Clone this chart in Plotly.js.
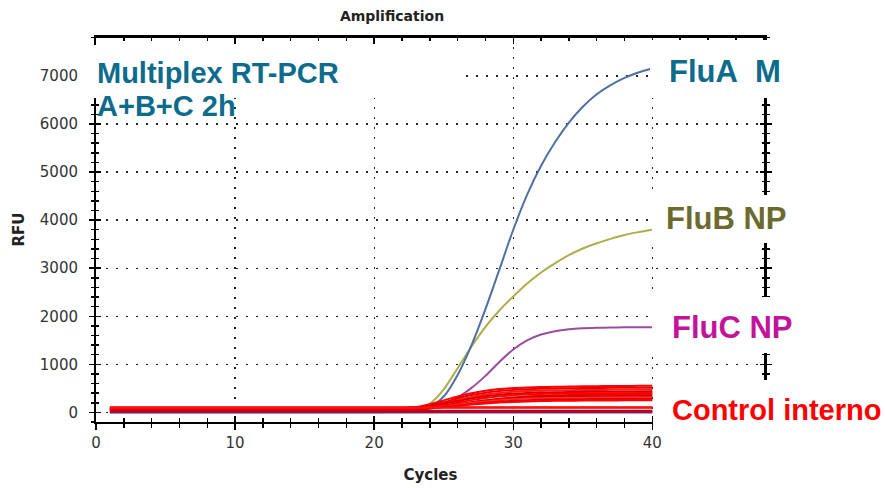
<!DOCTYPE html>
<html><head><meta charset="utf-8">
<script src="https://cdn.plot.ly/plotly-3.0.1.min.js"></script>
<style>html,body{margin:0;padding:0;background:#fff}#chart{width:885px;height:488px}</style>
</head><body><div id="chart"></div>
<script>
// ---- data ----
const cycles = [1,2,3,4,5,6,7,8,9,10,11,12,13,14,15,16,17,18,19,20,21,22,23,24,25,26,27,28,29,30,31,32,33,34,35,36,37,38,39,40];

const fluA = [10,10,10,10,10,10,10,10,10,10,10,10,10,10,10,10,10,10,10,10,12,15,40,110,330,780,1400,2150,2970,3800,4530,5130,5620,6030,6360,6620,6810,6960,7070,7160];
const fluB = [15,15,15,15,15,15,15,15,15,15,15,15,15,15,15,15,15,15,15,15,16,20,60,180,480,920,1370,1780,2120,2410,2680,2910,3100,3270,3410,3520,3610,3690,3750,3800];
const fluC = [5,5,5,5,5,5,5,5,5,5,5,5,5,5,5,5,5,5,5,5,6,10,30,80,170,310,510,760,1050,1310,1500,1620,1690,1730,1750,1760,1765,1770,1770,1770];

// internal control curves (rising)
const ctrl1 = [80,80,80,80,80,80,80,80,80,80,80,80,80,80,80,80,80,80,80,80,80,85,110,170,250,330,400,450,485,505,518,527,533,538,542,545,548,550,552,553];
const ctrl2 = [70,70,70,70,70,70,70,70,70,70,70,70,70,70,70,70,70,70,70,70,70,75,95,140,210,290,360,410,445,468,482,491,497,502,505,508,510,511,512,513];
const ctrl3 = [60,60,60,60,60,60,60,60,60,60,60,60,60,60,60,60,60,60,60,60,60,65,85,125,185,255,320,370,405,428,443,452,458,462,465,467,469,470,471,472];
const ctrl4 = [90,90,90,90,90,90,90,90,90,90,90,90,90,90,90,90,90,90,90,90,90,92,105,135,180,235,290,335,368,390,404,413,419,423,426,428,429,430,431,432];
const ctrl5 = [50,50,50,50,50,50,50,50,50,50,50,50,50,50,50,50,50,50,50,50,50,55,70,100,145,200,255,300,335,358,373,383,389,393,396,398,399,400,401,402];
const ctrl6 = [75,75,75,75,75,75,75,75,75,75,75,75,75,75,75,75,75,75,75,75,75,78,85,105,135,170,210,250,285,312,332,345,354,360,364,367,369,370,371,372];
const ctrl7 = [40,40,40,40,40,40,40,40,40,40,40,40,40,40,40,40,40,40,40,40,40,45,55,80,115,160,205,245,275,297,312,322,328,332,335,337,338,339,340,341];
const ctrl8 = [65,65,65,65,65,65,65,65,65,65,65,65,65,65,65,65,65,65,65,65,65,68,75,95,125,160,195,228,255,274,287,295,300,303,305,307,308,309,310,310];
const ctrl9 = [55,55,55,55,55,55,55,55,55,55,55,55,55,55,55,55,55,55,55,55,55,58,65,85,110,140,172,200,224,242,255,263,268,272,275,277,278,279,280,280];
const ctrl10 = [85,85,85,85,85,85,85,85,85,85,85,85,85,85,85,85,85,85,85,85,85,87,90,100,118,140,163,185,204,218,228,235,240,243,246,248,249,250,251,252];
// flat (negative) wells
const flat1 = [105,105,105,105,105,105,105,105,105,105,105,105,105,105,105,105,105,105,105,105,105,105,105,105,105,105,105,105,105,105,105,105,105,105,105,105,105,105,105,105];
const flat2 = [35,35,35,35,35,35,35,35,35,35,35,35,35,35,35,35,35,35,35,35,35,35,35,35,35,35,35,35,35,35,35,35,35,35,35,35,35,35,35,35];
const flat3 = [20,20,20,20,20,20,20,20,20,20,20,20,20,20,20,20,20,20,20,20,20,20,20,20,20,20,20,20,20,20,20,20,20,20,20,20,20,20,20,20];
const flat4 = [95,95,95,95,95,95,95,95,95,95,95,95,95,95,95,95,95,95,95,95,95,95,95,95,95,95,95,95,95,95,95,95,95,95,95,95,95,95,95,95];
const flat5 = [0,0,0,0,0,0,0,0,0,0,0,0,0,0,0,0,0,0,0,0,0,0,0,0,0,0,0,0,0,0,0,0,0,0,0,0,0,0,0,0];

const xTickVals = [0,10,20,30,40];
const yTickVals = [0,1000,2000,3000,4000,5000,6000,7000];

// ---- styling ----
const ctrlSeries = [ctrl1,ctrl2,ctrl3,ctrl4,ctrl5,ctrl6,ctrl7,ctrl8,ctrl9,ctrl10];
const ctrlColors = ['#ff0000','#e60000','#ff1a1a','#d40000','#ff0000','#f00000','#cc0000','#ff2a2a','#e00000','#ff0000'];
const flatSeries = [flat5,flat1,flat2,flat3,flat4];
const flatColors = ['#7a2a7a','#ff0000','#dd0000','#b00020','#ff1010'];
const flatAxes = [['x2','y2'],['x2','y2'],['x2','y2'],['x3','y3'],['x3','y3']];

const spl = {shape:'spline', smoothing:0.8, width:2};
const traces = [];
traces.push({x:cycles, y:fluC, mode:'lines', line:Object.assign({color:'#9c4c9c'}, spl)});
traces.push({x:cycles, y:fluB, mode:'lines', line:Object.assign({color:'#adad4c'}, spl)});
traces.push({x:cycles, y:fluA, mode:'lines', line:Object.assign({color:'#4f70a4'}, spl)});
ctrlSeries.forEach((s,i)=>traces.push({x:cycles, y:s, mode:'lines', line:Object.assign({color:ctrlColors[i]}, spl)}));
flatSeries.forEach((s,i)=>traces.push({x:cycles, y:s, mode:'lines', xaxis:flatAxes[i][0], yaxis:flatAxes[i][1], line:{color:flatColors[i], width:2}}));
traces.forEach(t=>{t.showlegend=false; t.hoverinfo='skip';});

const tickFont = {family:'DejaVu Sans', size:15, color:'#333'};
const titleFont = {family:'DejaVu Sans', size:15, color:'#222', weight:'bold'};
const xr = [0,48.1], yr = [-200,7810];
const grid = {showgrid:true, gridcolor:'#222', gridwidth:1.3, griddash:'1.5px,8.5px'};
const tk = (dir, len, mlen, dt, mdt) => ({tick0:0, ticks:dir, ticklen:len, tickwidth:1.5, tickcolor:'#000',
  minor:{dtick:mdt, tick0:0, ticks:dir, ticklen:mlen, tickwidth:1.5, tickcolor:'#000', showgrid:false}});
const noLab = {showticklabels:false, showgrid:false, zeroline:false, fixedrange:true};

const W = 669, H = 385, L = 96, T = 37;
const px = X => (X-L)/W, py = Y => (T+H-Y)/H;
const box = (x0,y0,x1,y1) => ({type:'rect', xref:'paper', yref:'paper', x0:px(x0), x1:px(x1), y0:py(y1), y1:py(y0), fillcolor:'#fff', line:{width:0}, layer:'above'});
const edge = (x0,y0,x1,y1) => ({type:'line', xref:'paper', yref:'paper', x0, y0, x1, y1, line:{color:'#000', width:2}, layer:'above'});
const lab = (text, X, Y, size, color) => ({text, xref:'paper', yref:'paper', x:px(X), y:py(Y), xanchor:'left', yanchor:'middle', showarrow:false, font:{family:'Liberation Sans, Arial', size, color, weight:'bold'}});

const layout = {
  width:885, height:488,
  margin:{l:L, r:885-L-W, t:T, b:488-T-H},
  paper_bgcolor:'#fff', plot_bgcolor:'#fff',
  title:{text:'Amplification', font:{family:'DejaVu Sans', size:14, color:'#222', weight:'bold'}, xref:'container', yref:'container', x:392/885, xanchor:'center', y:1-16/488, yanchor:'middle'},
  xaxis:Object.assign({range:xr, tickmode:'array', tickvals:xTickVals},
    tk('outside',6,4,10,2),
    {showline:true, linecolor:'#000', linewidth:2, zeroline:false, tickfont:tickFont,
    title:{text:'Cycles', font:titleFont, standoff:18}, fixedrange:true}, grid),
  xaxis2:Object.assign({range:xr, overlaying:'x', side:'top', anchor:'y2', dtick:10}, tk('inside',7,4,10,2),
    {showline:true, linecolor:'#000', linewidth:2}, noLab),
  xaxis3:Object.assign({range:xr, overlaying:'x', side:'bottom', anchor:'y3', dtick:10}, tk('inside',6,4,10,2),
    {showline:false}, noLab),
  yaxis:Object.assign({range:yr, tickmode:'array', tickvals:yTickVals}, tk('outside',5,3,1000,200),
    {mirror:'allticks', showline:true, linecolor:'#000', linewidth:2, zeroline:false, tickfont:tickFont, ticklabelstandoff:8,
    title:{text:'RFU', font:titleFont, standoff:12}, fixedrange:true}, grid),
  yaxis2:Object.assign({range:yr, overlaying:'y', side:'left', anchor:'x2', dtick:1000}, tk('inside',5,3,1000,200),
    {mirror:'allticks', showline:false}, noLab),
  yaxis3:Object.assign({range:yr, overlaying:'y', side:'right', anchor:'x3', dtick:1000}, {ticks:''},
    {showline:true, linecolor:'#000', linewidth:2}, noLab),
  shapes:[
    edge(0,1,1,1),
    edge(1,0,1,1),
    box(86,45,460,98),
    box(650,40,890,98),
    box(652,195,890,243),
    box(652,297,890,353),
    box(653,380,890,435)
  ],
  annotations:[
    lab('Multiplex RT-PCR', 95, 73, 29, '#0d6b8c'),
    lab('A+B+C 2h', 95, 106, 29, '#0d6b8c'),
    lab('FluA\u00A0\u00A0M', 667, 71, 31, '#0d6b8c'),
    lab('FluB NP', 664, 218, 31, '#6b6b30'),
    lab('FluC NP', 670, 327, 31, '#c2139b'),
    lab('Control interno', 670, 410, 29, '#ff0000')
  ],
  hovermode:false
};
Plotly.newPlot('chart', traces, layout, {displayModeBar:false, staticPlot:true});
</script></body></html>
